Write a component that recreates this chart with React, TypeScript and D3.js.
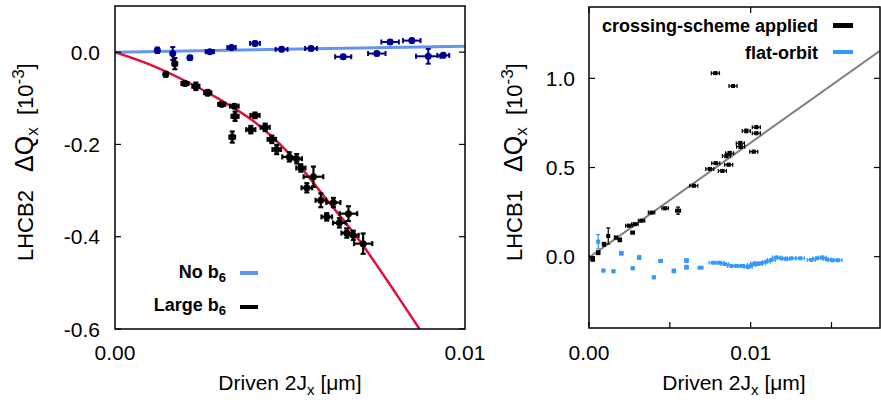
import React from 'react';
import * as d3 from 'd3';

// Left panel: LHCB2, driven action (um) vs tune shift (1e-3)
const noB6 = [
  // [2Jx, dQx, err 2Jx, err dQx]
  [0.00121, 0.004, 0.00003, 0.006],
  [0.00165, -0.003, 0.00003, 0.014],
  [0.00214, -0.012, 0.00005, 0.004],
  [0.00271, 0.001, 0.00012, 0.003],
  [0.00333, 0.010, 0.00012, 0.004],
  [0.0040, 0.019, 0.00014, 0.004],
  [0.00476, 0.006, 0.00017, 0.004],
  [0.0056, 0.008, 0.00017, 0.004],
  [0.00652, -0.010, 0.00023, 0.004],
  [0.00748, -0.003, 0.00025, 0.004],
  [0.00786, 0.022, 0.00025, 0.004],
  [0.00848, 0.025, 0.00025, 0.004],
  [0.00895, -0.009, 0.00035, 0.016],
  [0.00938, -0.007, 0.00017, 0.004],
];

const largeB6 = [
  [0.00171, -0.025, 0.00006, 0.012],
  [0.00145, -0.048, 0.00005, 0.005],
  [0.0020, -0.068, 0.0001, 0.004],
  [0.00231, -0.074, 0.0001, 0.008],
  [0.00265, -0.088, 0.0001, 0.006],
  [0.00305, -0.113, 0.0001, 0.004],
  [0.00341, -0.117, 0.00012, 0.004],
  [0.00343, -0.139, 0.0001, 0.01],
  [0.0040, -0.137, 0.00013, 0.006],
  [0.00335, -0.184, 0.00008, 0.012],
  [0.00388, -0.168, 0.00013, 0.008],
  [0.00429, -0.163, 0.00013, 0.008],
  [0.00448, -0.189, 0.00012, 0.008],
  [0.00462, -0.211, 0.00012, 0.01],
  [0.00498, -0.227, 0.0002, 0.01],
  [0.00519, -0.231, 0.00015, 0.01],
  [0.00531, -0.251, 0.00013, 0.008],
  [0.00567, -0.270, 0.00028, 0.022],
  [0.00548, -0.294, 0.00015, 0.01],
  [0.00588, -0.321, 0.00015, 0.015],
  [0.00624, -0.326, 0.0002, 0.01],
  [0.00605, -0.357, 0.00015, 0.008],
  [0.00667, -0.350, 0.00025, 0.016],
  [0.00641, -0.370, 0.00018, 0.01],
  [0.00662, -0.392, 0.00015, 0.01],
  [0.00681, -0.397, 0.00015, 0.01],
  [0.00709, -0.415, 0.00026, 0.022],
];

const noB6Fit = [[0, 0], [0.01, 0.013]];
const largeB6Fit = [
  [0, 0], [0.001, -0.027], [0.002, -0.062], [0.003, -0.103], [0.004, -0.152],
  [0.005, -0.222], [0.006, -0.315], [0.007, -0.41], [0.008, -0.52], [0.0087, -0.6],
];

// Right panel: LHCB1
const crossing = [
  [0.00782, 1.029, 0.00025, 0.006],
  [0.00891, 0.957, 0.00025, 0.006],
  [0.00973, 0.705, 0.00025, 0.01],
  [0.01035, 0.726, 0.00025, 0.006],
  [0.01035, 0.692, 0.00025, 0.006],
  [0.00936, 0.636, 0.00025, 0.01],
  [0.00938, 0.617, 0.00025, 0.01],
  [0.01019, 0.589, 0.00025, 0.006],
  [0.0087, 0.58, 0.00025, 0.01],
  [0.0085, 0.565, 0.00025, 0.01],
  [0.00784, 0.524, 0.00025, 0.006],
  [0.00864, 0.516, 0.00025, 0.006],
  [0.00747, 0.492, 0.00025, 0.006],
  [0.00825, 0.481, 0.00025, 0.006],
  [0.00648, 0.398, 0.00025, 0.006],
  [0.00551, 0.258, 0.00015, 0.02],
  [0.00471, 0.271, 0.0002, 0.006],
  [0.00387, 0.247, 0.0002, 0.006],
  [0.00325, 0.202, 0.0002, 0.006],
  [0.00284, 0.182, 0.0002, 0.006],
  [0.00247, 0.174, 0.0002, 0.006],
  [0.0027, 0.135, 0.0001, 0.006],
  [0.00191, 0.094, 0.0001, 0.01],
  [0.00167, 0.107, 0.0001, 0.006],
  [0.00119, 0.116, 0.00005, 0.045],
  [0.00093, 0.07, 0.0001, 0.01],
  [0.00057, 0.022, 0.0001, 0.01],
  [0.00023, -0.015, 0.0001, 0.01],
];

const flatOrbit = [
  [0.00057, 0.084, 0.00005, 0.04],
  [0.00006, -0.004, 0.00005, 0.01],
  [0.002, 0.019, 0.0001, 0.01],
  [0.0031, -0.005, 0.0001, 0.01],
  [0.00089, -0.078, 0.00005, 0.004],
  [0.00151, -0.082, 0.00005, 0.004],
  [0.0027, -0.065, 0.00005, 0.004],
  [0.00401, -0.116, 0.00005, 0.004],
  [0.00443, -0.024, 0.0001, 0.006],
  [0.00525, -0.080, 0.0001, 0.01],
  [0.00603, -0.022, 0.0001, 0.01],
  [0.00603, -0.059, 0.0001, 0.01],
  [0.0069, -0.062, 0.00015, 0.004],
  [0.00768, -0.034, 0.00025, 0.004],
  [0.00809, -0.034, 0.00025, 0.004],
  [0.0084, -0.041, 0.00025, 0.004],
  [0.00881, -0.052, 0.00025, 0.004],
  [0.00912, -0.052, 0.00025, 0.004],
  [0.00953, -0.052, 0.00025, 0.004],
  [0.00984, -0.059, 0.00025, 0.004],
  [0.01005, -0.047, 0.00025, 0.004],
  [0.01025, -0.037, 0.00025, 0.004],
  [0.01045, -0.041, 0.00025, 0.004],
  [0.01066, -0.037, 0.00025, 0.004],
  [0.01097, -0.028, 0.00025, 0.004],
  [0.01128, -0.018, 0.00025, 0.004],
  [0.01159, -0.004, 0.00025, 0.004],
  [0.0119, -0.009, 0.00025, 0.004],
  [0.0122, -0.013, 0.00025, 0.004],
  [0.01252, -0.009, 0.00025, 0.004],
  [0.01307, -0.009, 0.00025, 0.004],
  [0.01375, -0.018, 0.00025, 0.004],
  [0.0141, -0.009, 0.00025, 0.004],
  [0.01443, -0.004, 0.00025, 0.004],
  [0.01472, -0.015, 0.00025, 0.004],
  [0.01505, -0.02, 0.00025, 0.004],
  [0.0154, -0.02, 0.00025, 0.004],
];

const crossingFit = [[0, -0.005], [0.018, 1.155]];

const leftXTicks = [0, 0.01];
const leftYTicks = [0.0, -0.2, -0.4, -0.6];
const rightXTicks = [0, 0.01];
const rightXMinor = [0.005, 0.015];
const rightYTicks = [0.0, 0.5, 1.0];

const FONT = '"Liberation Sans", Arial, Helvetica, sans-serif';
const NAVY = '#00008b';
const LIGHTBLUE = '#6495ed';
const CRIMSON = '#dc143c';
const SKY = '#3399ff';

// plain hyphen minus, like the original plot
const fmt1 = (v: number) => d3.format('.1f')(v).replace('\u2212', '-');
const fmt2 = (v: number) => d3.format('.2f')(v).replace('\u2212', '-');

type Pt = number[];

function ErrPoints({ data, x, y, color, shape, r, sw, cap }: any) {
  return (
    <g stroke={color} fill={color} strokeWidth={sw}>
      {data.map((d: Pt, i: number) => {
        const cx = x(d[0]);
        const cy = y(d[1]);
        const xl = x(d[0] - d[2]);
        const xr = x(d[0] + d[2]);
        const yt = y(d[1] + d[3]);
        const yb = y(d[1] - d[3]);
        return (
          <g key={i}>
            <line x1={xl} x2={xr} y1={cy} y2={cy} />
            <line x1={xl} x2={xl} y1={cy - cap} y2={cy + cap} />
            <line x1={xr} x2={xr} y1={cy - cap} y2={cy + cap} />
            <line x1={cx} x2={cx} y1={yt} y2={yb} />
            <line x1={cx - cap} x2={cx + cap} y1={yt} y2={yt} />
            <line x1={cx - cap} x2={cx + cap} y1={yb} y2={yb} />
            {shape === 'circle' ? (
              <circle cx={cx} cy={cy} r={r} stroke="none" />
            ) : (
              <rect x={cx - r} y={cy - r} width={2 * r} height={2 * r} stroke="none" />
            )}
          </g>
        );
      })}
    </g>
  );
}

function YLabel({ x, name }: any) {
  return (
    <g transform={`translate(${x},0) rotate(-90)`} fontFamily={FONT} fontSize={22} fill="#000">
      <text x={-261} y={0}>{name}</text>
      <text x={-172} y={0}>
        <tspan fontSize={25}>ΔQ</tspan>
        <tspan fontSize={17} dy={5}>x</tspan>
        <tspan dy={-5} xmlSpace="preserve">  [10</tspan>
        <tspan fontSize={17} dy={-9}>-3</tspan>
        <tspan dy={9}>]</tspan>
      </text>
    </g>
  );
}

function XLabel({ cx }: any) {
  return (
    <text x={cx} y={390} textAnchor="middle" fontFamily={FONT} fontSize={21}>
      Driven 2J<tspan fontSize={15} dy={5}>x</tspan>
      <tspan dy={-5}> [μm]</tspan>
    </text>
  );
}

function Frame({ x0, x1, y0, y1 }: any) {
  return <rect x={x0} y={y0} width={x1 - x0} height={y1 - y0} fill="none" stroke="#000" strokeWidth={1.5} />;
}

export default function App() {
  // left panel scales
  const lx = d3.scaleLinear().domain([0, 0.01]).range([115, 465]);
  const ly = d3.scaleLinear().domain([-0.6, 0.1]).range([329, 6]);
  // right panel scales
  const rx = d3.scaleLinear().domain([0, 0.018]).range([589, 880]);
  const ry = d3.scaleLinear().domain([-0.4, 1.4]).range([328, 7]);

  const lLine = d3.line<Pt>().x((d) => lx(d[0])).y((d) => ly(d[1])).curve(d3.curveMonotoneX);
  const rLine = d3.line<Pt>().x((d) => rx(d[0])).y((d) => ry(d[1]));

  const tick = 6;

  return (
    <svg width={881} height={400} style={{ position: 'absolute', left: 0, top: 0, background: '#fff' }}>
      <defs>
        <clipPath id="clipL">
          <rect x={115} y={6} width={350} height={323} />
        </clipPath>
        <clipPath id="clipR">
          <rect x={589} y={7} width={291} height={321} />
        </clipPath>
      </defs>

      {/* ---------- left panel ---------- */}
      <g clipPath="url(#clipL)">
        <path d={lLine(noB6Fit) || ''} fill="none" stroke={LIGHTBLUE} strokeWidth={3} />
        <path d={lLine(largeB6Fit) || ''} fill="none" stroke={CRIMSON} strokeWidth={2.5} />
        <ErrPoints data={noB6} x={lx} y={ly} color={NAVY} shape="circle" r={3.5} sw={2} cap={2.5} />
        <ErrPoints data={largeB6} x={lx} y={ly} color="#000" shape="circle" r={3.5} sw={2.2} cap={2.5} />
      </g>
      <g stroke="#000" strokeWidth={1.2}>
        {leftYTicks.map((t) => (
          <g key={t}>
            <line x1={115} x2={115 + tick} y1={ly(t)} y2={ly(t)} />
            <line x1={465} x2={465 - tick} y1={ly(t)} y2={ly(t)} />
          </g>
        ))}
      </g>
      <Frame x0={115} x1={465} y0={6} y1={329} />
      <g fontFamily={FONT} fontSize={21}>
        {leftYTicks.map((t) => (
          <text key={t} x={100} y={ly(t)} textAnchor="end" dominantBaseline="central">
            {fmt1(t)}
          </text>
        ))}
        {leftXTicks.map((t) => (
          <text key={t} x={lx(t)} y={352} textAnchor="middle" dominantBaseline="central">
            {fmt2(t)}
          </text>
        ))}
      </g>
      <XLabel cx={290} />
      <YLabel x={33} name="LHCB2" />
      {/* left legend */}
      <g fontFamily={FONT} fontSize={18} fontWeight="bold">
        <text x={226} y={272} textAnchor="end" dominantBaseline="central">
          No b<tspan fontSize={13} dy={5}>6</tspan>
        </text>
        <line x1={240} x2={258} y1={273} y2={273} stroke={LIGHTBLUE} strokeWidth={4} />
        <text x={226} y={305} textAnchor="end" dominantBaseline="central">
          Large b<tspan fontSize={13} dy={5}>6</tspan>
        </text>
        <line x1={240} x2={258} y1={307} y2={307} stroke="#000" strokeWidth={4} />
      </g>

      {/* ---------- right panel ---------- */}
      <g clipPath="url(#clipR)">
        <path d={rLine(crossingFit) || ''} fill="none" stroke="#808080" strokeWidth={2} />
        <ErrPoints data={flatOrbit} x={rx} y={ry} color={SKY} shape="rect" r={2} sw={1.2} cap={2} />
        <ErrPoints data={crossing} x={rx} y={ry} color="#000" shape="rect" r={2} sw={1.2} cap={2} />
      </g>
      <g stroke="#000" strokeWidth={1.2}>
        {rightYTicks.map((t) => (
          <g key={t}>
            <line x1={589} x2={589 + tick} y1={ry(t)} y2={ry(t)} />
            <line x1={880} x2={880 - tick} y1={ry(t)} y2={ry(t)} />
          </g>
        ))}
        {rightXTicks.map((t) => (
          <g key={t}>
            <line x1={rx(t)} x2={rx(t)} y1={328} y2={328 - tick} />
            <line x1={rx(t)} x2={rx(t)} y1={7} y2={7 + tick} />
          </g>
        ))}
        {rightXMinor.map((t) => (
          <line key={t} x1={rx(t)} x2={rx(t)} y1={328} y2={328 - tick} />
        ))}
      </g>
      <Frame x0={589} x1={880} y0={7} y1={328} />
      <g fontFamily={FONT} fontSize={21}>
        {rightYTicks.map((t) => (
          <text key={t} x={575} y={ry(t)} textAnchor="end" dominantBaseline="central">
            {fmt1(t)}
          </text>
        ))}
        {rightXTicks.map((t) => (
          <text key={t} x={rx(t)} y={352} textAnchor="middle" dominantBaseline="central">
            {fmt2(t)}
          </text>
        ))}
      </g>
      <XLabel cx={734} />
      <YLabel x={522} name="LHCB1" />
      {/* right legend */}
      <g fontFamily={FONT} fontSize={18} fontWeight="bold">
        <text x={818} y={26} textAnchor="end" dominantBaseline="central">crossing-scheme applied</text>
        <rect x={833} y={23} width={20} height={5} fill="#000" />
        <text x={818} y={53} textAnchor="end" dominantBaseline="central">flat-orbit</text>
        <rect x={833} y={50} width={20} height={4} fill={SKY} />
      </g>
    </svg>
  );
}
